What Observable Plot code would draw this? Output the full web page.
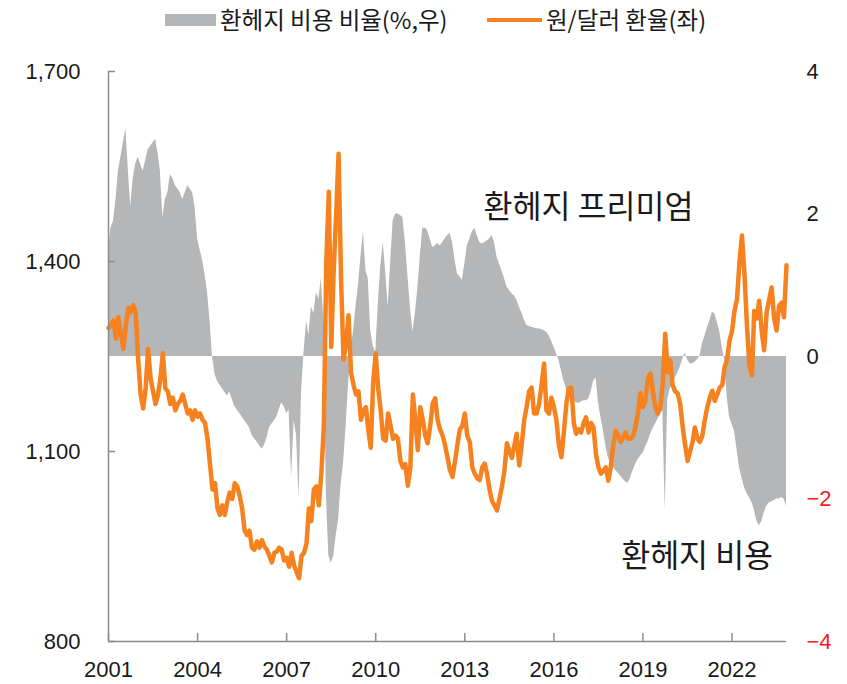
<!DOCTYPE html>
<html>
<head>
<meta charset="utf-8">
<script src="https://cdn.jsdelivr.net/npm/d3@7"></script>
<script src="https://cdn.jsdelivr.net/npm/@observablehq/plot@0.6"></script>
<style>
  body { margin: 0; background: #fff; }
  #legend { position: relative; width: 847px; height: 40px; font-family: "Noto Sans CJK KR", sans-serif; font-size: 23.5px; color: #1a1a1a; }
  #legend .sw { position: absolute; top: 14px; width: 51px; height: 12px; background: #b5b6b8; }
  #legend .ln { position: absolute; top: 18px; width: 55px; height: 4px; background: #f5821f; }
  #legend .lt { position: absolute; top: 0; line-height: 38px; white-space: nowrap; }
</style>
</head>
<body>
<div id="legend">
  <span class="sw" style="left:165px"></span>
  <span class="lt" style="left:220px">환헤지 비용 비율(%,우)</span>
  <span class="ln" style="left:487px"></span>
  <span class="lt" style="left:546px">원/달러 환율(좌)</span>
</div>
<div id="chart"></div>
<script>
// Monthly series, first month = June 2001, last = April 2024
const firstMonth = [2001, 6];

// 원/달러 환율 (left axis), one row per year
const krwRows = [
  [1295, 1300, 1307, 1278, 1312, 1285, 1262],                                   // 2001 Jun-Dec
  [1300, 1327, 1320, 1331, 1320, 1245, 1190, 1168, 1200, 1262, 1215, 1195],   // 2002
  [1175, 1190, 1215, 1255, 1200, 1195, 1175, 1185, 1165, 1175, 1180, 1190],   // 2003
  [1175, 1160, 1165, 1150, 1165, 1155, 1160, 1150, 1145, 1120, 1080, 1040],   // 2004
  [1050, 1010, 1000, 1015, 1000, 1020, 1035, 1025, 1050, 1045, 1030, 1010],   // 2005
  [975, 968, 975, 948, 945, 958, 948, 960, 950, 945, 935, 925],               // 2006
  [940, 942, 948, 945, 928, 932, 918, 940, 920, 910, 900, 935],               // 2007
  [940, 955, 1010, 990, 1040, 1045, 1015, 1065, 1140, 1400, 1510, 1265],      // 2008
  [1390, 1480, 1570, 1370, 1245, 1270, 1315, 1225, 1205, 1190, 1195, 1150],   // 2009
  [1165, 1170, 1135, 1106, 1210, 1255, 1200, 1165, 1120, 1117, 1160, 1140],   // 2010
  [1120, 1125, 1120, 1085, 1075, 1080, 1046, 1075, 1190, 1150, 1102, 1170],   // 2011
  [1150, 1125, 1113, 1140, 1175, 1184, 1150, 1135, 1125, 1110, 1090, 1070],   // 2012
  [1060, 1085, 1110, 1135, 1140, 1160, 1125, 1115, 1075, 1065, 1058, 1055],   // 2013
  [1075, 1081, 1065, 1040, 1022, 1015, 1007, 1025, 1045, 1070, 1113, 1100],   // 2014
  [1090, 1110, 1128, 1078, 1110, 1149, 1170, 1195, 1201, 1160, 1160, 1175],   // 2015
  [1205, 1239, 1165, 1160, 1185, 1170, 1150, 1110, 1091, 1130, 1175, 1200],   // 2016
  [1201, 1145, 1128, 1135, 1130, 1145, 1154, 1130, 1145, 1138, 1095, 1075],   // 2017
  [1065, 1070, 1075, 1054, 1075, 1110, 1133, 1125, 1115, 1122, 1130, 1120],   // 2018
  [1120, 1125, 1138, 1160, 1192, 1170, 1180, 1215, 1223, 1195, 1170, 1160],   // 2019
  [1170, 1210, 1286, 1225, 1244, 1205, 1195, 1192, 1175, 1140, 1110, 1085],   // 2020
  [1100, 1115, 1138, 1120, 1115, 1125, 1150, 1170, 1185, 1196, 1180, 1190],   // 2021
  [1201, 1205, 1233, 1245, 1275, 1290, 1322, 1340, 1400, 1441, 1380, 1300],   // 2022
  [1235, 1220, 1322, 1310, 1338, 1290, 1260, 1320, 1340, 1359, 1310, 1291],   // 2023
  [1330, 1335, 1312, 1394]                                                    // 2024 Jan-Apr
];

// 환헤지 비용 비율 (%, right axis), one row per year
const hedgeRows = [
  [1.5, 1.8, 1.9, 2.2, 2.6, 2.8, 3.0],                                        // 2001 Jun-Dec
  [3.2, 2.6, 2.1, 2.5, 2.7, 2.8, 2.7, 2.6, 2.75, 2.9, 2.95, 3.0],              // 2002
  [3.05, 2.85, 2.6, 1.95, 2.2, 2.3, 2.55, 2.5, 2.4, 2.35, 2.3, 2.2],          // 2003
  [2.3, 2.4, 2.35, 2.3, 2.1, 1.65, 1.5, 1.35, 1.15, 0.9, 0.5, 0.0],           // 2004
  [-0.25, -0.35, -0.4, -0.45, -0.5, -0.55, -0.5, -0.6, -0.7, -0.75, -0.8, -0.85], // 2005
  [-0.9, -0.95, -1.0, -1.1, -1.15, -1.2, -1.25, -1.3, -1.25, -1.15, -1.0, -0.95], // 2006
  [-0.9, -0.85, -0.75, -0.65, -0.7, -0.8, -0.75, -1.7, -0.9, -1.1, -2.0, -0.5],   // 2007
  [0.05, 0.5, 0.3, 0.7, 0.6, 0.9, 0.8, 1.1, 0.5, -1.9, -2.8, -2.9],           // 2008
  [-2.8, -2.5, -2.3, -1.8, -1.5, -1.0, -0.4, 0.1, 0.35, 0.7, 1.0, 1.4],       // 2009
  [1.75, 1.2, 1.1, 0.35, 0.15, 0.05, 0.7, 1.25, 1.6, 1.2, 0.7, 1.3],          // 2010
  [1.9, 2.0, 2.0, 1.98, 1.95, 1.6, 1.15, 0.7, 0.35, 0.6, 0.95, 1.4],          // 2011
  [1.8, 1.8, 1.77, 1.65, 1.53, 1.55, 1.59, 1.55, 1.6, 1.65, 1.7, 1.73],       // 2012
  [1.6, 1.35, 1.16, 1.12, 1.07, 1.3, 1.55, 1.65, 1.75, 1.8, 1.7, 1.6],        // 2013
  [1.58, 1.6, 1.62, 1.65, 1.7, 1.6, 1.4, 1.3, 1.2, 1.1, 0.98, 0.93],          // 2014
  [0.88, 0.85, 0.8, 0.7, 0.62, 0.52, 0.44, 0.42, 0.41, 0.4, 0.39, 0.39],      // 2015
  [0.38, 0.36, 0.34, 0.3, 0.22, 0.13, 0.05, -0.05, -0.2, -0.34, -0.45, -0.55],   // 2016
  [-0.58, -0.62, -0.65, -0.66, -0.64, -0.62, -0.62, -0.6, -0.5, -0.35, -0.3, -0.65], // 2017
  [-0.86, -1.05, -1.25, -1.42, -1.5, -1.55, -1.6, -1.64, -1.68, -1.72, -1.76, -1.78], // 2018
  [-1.7, -1.6, -1.52, -1.45, -1.4, -1.36, -1.28, -1.2, -1.1, -1.02, -0.95, -0.88],   // 2019
  [-0.82, -0.75, -2.16, -0.6, -0.45, -0.4, -0.3, -0.24, -0.15, -0.05, 0.05, -0.05],  // 2020
  [-0.1, -0.1, -0.08, -0.05, 0.0, 0.18, 0.28, 0.4, 0.5, 0.62, 0.6, 0.48],     // 2021
  [0.35, 0.13, -0.05, -0.55, -0.85, -0.95, -1.05, -1.3, -1.56, -1.7, -1.84, -1.92], // 2022
  [-1.98, -2.05, -2.15, -2.3, -2.38, -2.32, -2.2, -2.1, -2.06, -2.04, -2.02, -2.0], // 2023
  [-2.0, -1.98, -2.0, -2.1]                                                   // 2024 Jan-Apr
];

const yearTicks = [2001, 2004, 2007, 2010, 2013, 2016, 2019, 2022];
const leftTicks = [800, 1100, 1400, 1700];
const rightTicksBlack = [0, 2, 4];
const rightTicksRed = [-2, -4];
const annotLabels = ["환헤지 프리미엄", "환헤지 비용"];
const annotDates = ["2014-02-01", "2018-09-20"];
const annotValues = [1485, 933];

// right axis (-4..4) mapped onto the left axis (800..1700)
const toLeft = v => 1250 + v * 112.5;
const fromLeft = d => (d - 1250) / 112.5;

const krw = krwRows.flat();
const hedge = hedgeRows.flat();
const start = new Date(Date.UTC(firstMonth[0], firstMonth[1] - 1, 15));
const data = krw.map((k, i) => ({date: d3.utcMonth.offset(start, i), krw: k, hedge: hedge[i]}));
const end = data[data.length - 1].date;
const xTicks = yearTicks.map(y => new Date(Date.UTC(y, firstMonth[1] - 1, 15)));
const annotations = annotLabels.map((t, i) => ({text: t, date: new Date(annotDates[i]), value: annotValues[i]}));

const axisColor = "#8c8c8c";
const fmtR = d3.format(".0f");

const chart = Plot.plot({
  width: 847,
  height: 644,
  marginLeft: 108,
  marginRight: 61,
  marginTop: 31,
  marginBottom: 43,
  style: {fontFamily: "'Liberation Sans', Arial, sans-serif", fontSize: "22px", color: "#1a1a1a", background: "#fff"},
  x: {type: "utc", domain: [start, end], label: null},
  y: {domain: [800, 1700], label: null},
  marks: [
    Plot.areaY(data, {x: "date", y1: toLeft(0), y2: d => toLeft(d.hedge), fill: "#b5b6b8"}),
    Plot.lineY(data, {x: "date", y: "krw", stroke: "#f5821f", strokeWidth: 4.5, strokeLinejoin: "round", strokeLinecap: "round"}),
    Plot.ruleX([start], {stroke: axisColor, strokeWidth: 1.5}),
    Plot.ruleY([800], {stroke: axisColor, strokeWidth: 1.5}),
    Plot.axisY(leftTicks, {anchor: "left", tickSize: -7, tickFormat: () => "", stroke: axisColor, strokeWidth: 1.5, label: null}),
    Plot.axisY(leftTicks, {anchor: "left", tickSize: 0, tickPadding: 28, tickFormat: d3.format(","), fill: "#1a1a1a", label: null}),
    Plot.axisY(rightTicksBlack.map(toLeft), {anchor: "right", tickSize: 0, tickPadding: 20, tickFormat: d => fmtR(fromLeft(d)), fill: "#1a1a1a", label: null}),
    Plot.axisY(rightTicksRed.map(toLeft), {anchor: "right", tickSize: 0, tickPadding: 20, tickFormat: d => fmtR(fromLeft(d)), fill: "#f01e23", label: null}),
    Plot.axisX(xTicks, {anchor: "bottom", tickSize: -8, tickFormat: () => "", stroke: axisColor, strokeWidth: 1.5, label: null}),
    Plot.axisX(xTicks, {anchor: "bottom", tickSize: 0, tickPadding: 20, tickFormat: d3.utcFormat("%Y"), fill: "#1a1a1a", label: null}),
    Plot.text(annotations, {x: "date", y: "value", text: "text", textAnchor: "start", fontSize: 31.5, fontFamily: "Noto Sans CJK KR", fill: "#1a1a1a"})
  ]
});
document.getElementById("chart").appendChild(chart);
</script>
</body>
</html>
